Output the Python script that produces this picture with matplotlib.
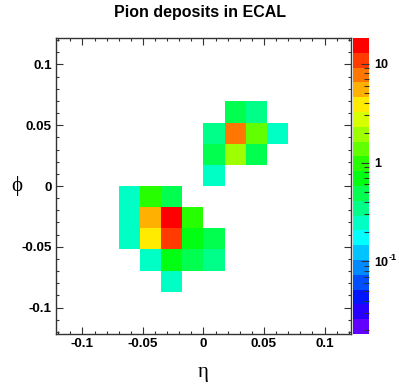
import colorsys
import numpy as np
import matplotlib
matplotlib.use("Agg")
import matplotlib.pyplot as plt
from matplotlib.colors import ListedColormap, LogNorm
from matplotlib.ticker import MultipleLocator, LogLocator, NullFormatter

# crystal size and histogram range (ECAL crystals)
crystal = 0.0174
n_bins = 14

# crystal indices (bin i covers [i*crystal, (i+1)*crystal]) and energy deposits
ieta = [1, 2, 0, 1, 2, 3, 0, 1, 2, 0,
        -4, -3, -2, -4, -3, -2, -1, -4, -3, -2, -1, 0, -3, -2, -1, 0, -2]
iphi = [3, 3, 2, 2, 2, 2, 1, 1, 1, 0,
        -1, -1, -1, -2, -2, -2, -2, -3, -3, -3, -3, -3, -4, -4, -4, -4, -5]
energy = [0.49, 0.34, 0.34, 7.7, 1.37, 0.24, 0.49, 1.93, 0.49, 0.24,
          0.24, 0.97, 0.49, 0.24, 5.4, 15.3, 0.97, 0.24, 3.9, 10.8, 0.69, 0.49,
          0.24, 0.69, 0.49, 0.34, 0.24]

tick_vals = [-0.1, -0.05, 0, 0.05, 0.1]
tick_labels = ['-0.1', '-0.05', '0', '0.05', '0.1']
cb_ticks = [0.1, 1, 10]
cb_labels = ['10', '1', '10']   # first one gets a "-1" exponent below

z_min, z_max = 0.0184, 18.2
n_levels = 20

plt.rcParams['font.family'] = ['Liberation Sans', 'DejaVu Sans']

# rainbow palette, violet (low) -> red (high)
colors = [colorsys.hsv_to_rgb((263.0 / 360.0) * (1 - k / (n_levels - 1)), 1, 1)
          for k in range(n_levels)]
cmap = ListedColormap(colors)
cmap.set_bad('white')

half = n_bins // 2 * crystal
edges = np.linspace(-half, half, n_bins + 1)
eta_c = (np.array(ieta) + 0.5) * crystal
phi_c = (np.array(iphi) + 0.5) * crystal
H, xe, ye = np.histogram2d(eta_c, phi_c, bins=[edges, edges], weights=energy)
H = np.ma.masked_where(H <= 0, H)

fig = plt.figure(figsize=(3.99, 3.85), dpi=100)
ax = fig.add_axes([56 / 399, 51 / 385, 295 / 399, 296 / 385])
cax = fig.add_axes([353 / 399, 51 / 385, 16 / 399, 296 / 385])

mesh = ax.pcolormesh(xe, ye, H.T, cmap=cmap, norm=LogNorm(vmin=z_min, vmax=z_max))
ax.set_xlim(-half, half)
ax.set_ylim(-half, half)

ax.set_xticks(tick_vals)
ax.set_xticklabels(tick_labels)
ax.set_yticks(tick_vals)
ax.set_yticklabels(tick_labels)
ax.xaxis.set_minor_locator(MultipleLocator(0.01))
ax.yaxis.set_minor_locator(MultipleLocator(0.01))
ax.tick_params(which='both', direction='in', top=True, right=True,
               labelsize=9.7, width=0.8, color='#333333')
ax.tick_params(which='major', length=5, pad=3)
ax.tick_params(which='minor', length=2.5)
for lab in ax.get_xticklabels() + ax.get_yticklabels():
    lab.set_fontweight('bold')
for s in ax.spines.values():
    s.set_linewidth(1.0)
    s.set_color('#333333')

cb = fig.colorbar(mesh, cax=cax)
cb.outline.set_visible(False)
cb.set_ticks(cb_ticks)
cb.set_ticklabels(cb_labels)
cax.yaxis.set_minor_locator(LogLocator(base=10, subs=np.arange(2, 10)))
cax.yaxis.set_minor_formatter(NullFormatter())
cax.tick_params(which='both', direction='in', width=0.8, color='#333333', labelsize=9)
cax.tick_params(which='major', length=6, pad=4)
cax.tick_params(which='minor', length=3.5)
for lab in cax.get_yticklabels():
    lab.set_fontweight('bold')

# exponent of the 10^-1 label, placed right after its base
fig.canvas.draw()
bb = cax.get_yticklabels()[0].get_window_extent()
fig.text((bb.x1 + 0.5) / 399, (bb.y1 - 1) / 385, '-1', ha='left', va='center',
         fontsize=6.5, fontweight='bold')

fig.text(0.5, 1 - 12 / 385, 'Pion deposits in ECAL', ha='center', va='center',
         fontsize=11.5, fontweight='bold')
serif = ['Liberation Serif', 'DejaVu Serif']
fig.text(203 / 399, 1 - 372 / 385, '\u03b7', ha='center', va='center',
         fontsize=15, family=serif)
fig.text(17 / 399, 1 - 186 / 385, '\u03d5', ha='center', va='center',
         fontsize=15, family=serif)

fig.savefig('out.png', dpi=100)
